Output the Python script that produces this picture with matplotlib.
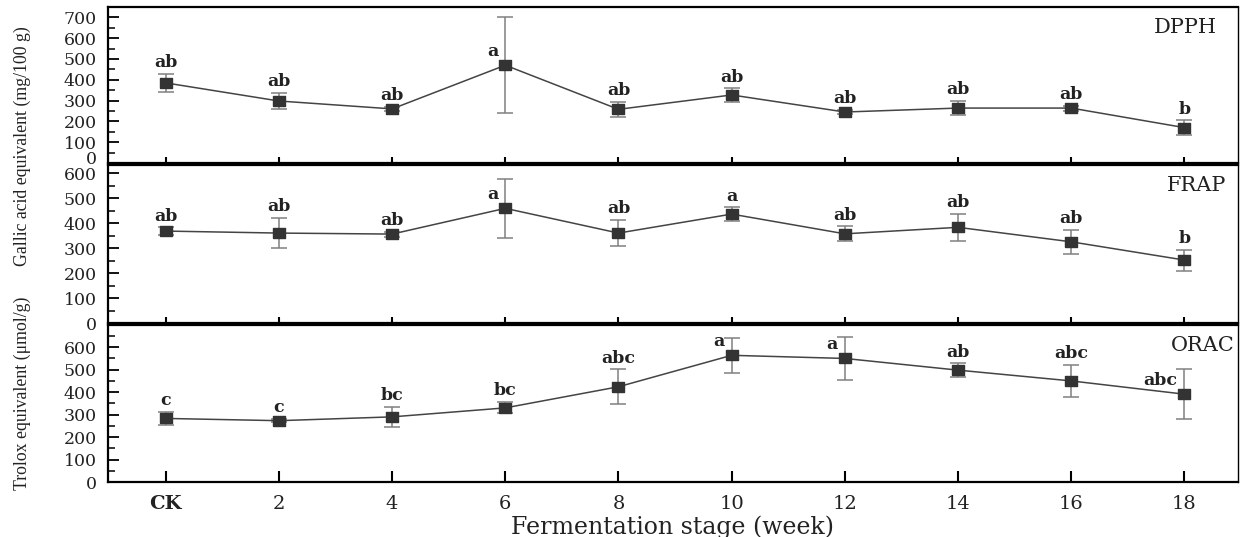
import matplotlib
matplotlib.use("Agg")
import matplotlib.pyplot as plt
import matplotlib.transforms as mtransforms
import numpy as np
from matplotlib.ticker import MultipleLocator

weeks = ["CK", "2", "4", "6", "8", "10", "12", "14", "16", "18"]

dpph = [385, 298, 260, 470, 258, 327, 245, 264, 264, 170]
dpph_sd = [42, 38, 10, 230, 37, 32, 10, 33, 12, 35]
dpph_lett = ["ab", "ab", "ab", "a", "ab", "ab", "ab", "ab", "ab", "b"]

frap = [368, 360, 356, 459, 360, 436, 357, 383, 325, 252]
frap_sd = [15, 60, 10, 118, 53, 27, 30, 55, 48, 42]
frap_lett = ["ab", "ab", "ab", "a", "ab", "a", "ab", "ab", "ab", "b"]

orac = [283, 273, 290, 330, 424, 564, 550, 498, 450, 391]
orac_sd = [30, 8, 45, 25, 77, 79, 97, 30, 73, 111]
orac_lett = ["c", "c", "bc", "bc", "abc", "a", "a", "ab", "abc", "abc"]

serif = ["DejaVu Serif"]
narrow = ["Liberation Serif", "DejaVu Serif"]

fig = plt.figure(figsize=(12.4, 5.37), dpi=100)
ax1 = fig.add_axes([0.0871, 0.6965, 0.911, 0.2905])
ax2 = fig.add_axes([0.0871, 0.3985, 0.911, 0.294])
ax3 = fig.add_axes([0.0871, 0.1024, 0.911, 0.292])

x = np.arange(len(weeks))
# ylim, title, title x (axes fraction), labels drawn left of long bars
panels = [
    (ax1, dpph, dpph_sd, dpph_lett, 750, "DPPH", 0.982, [3]),
    (ax2, frap, frap_sd, frap_lett, 632, "FRAP", 0.990, [3]),
    (ax3, orac, orac_sd, orac_lett, 698, "ORAC", 0.997, [5, 6, 9]),
]

box = [(-1.35, -1), (1.35, -1), (1.35, 1), (-1.35, 1), (-1.35, -1)]

for ax, vals, sd, lett, top, name, tx, left in panels:
    ax.errorbar(x, vals, yerr=sd, fmt="none", ecolor="#808080", elinewidth=1.1,
                capsize=6, capthick=1.1, zorder=2)
    ax.plot(x, vals, color="#444444", lw=1.1, marker=box, ms=9,
            mfc="#333333", mec="#333333", zorder=3)
    for i, (v, s, l) in enumerate(zip(vals, sd, lett)):
        if i in left:
            ax.annotate(l, (x[i], v), xytext=(-5, 4), textcoords="offset points",
                        ha="right", va="bottom", fontsize=12.5, fontweight="bold",
                        family=serif, color="#222222")
        else:
            ax.annotate(l, (x[i], v + s), xytext=(0, 2), textcoords="offset points",
                        ha="center", va="bottom", fontsize=12.5, fontweight="bold",
                        family=serif, color="#222222")
    ax.text(tx, 0.87, name, transform=ax.transAxes, ha="right", va="center",
            fontsize=15, family=serif, color="#222222")
    ax.set_xlim(-0.51, 9.47)
    ax.set_ylim(0, top)
    ax.yaxis.set_major_locator(MultipleLocator(100))
    ax.yaxis.set_minor_locator(MultipleLocator(50))
    ax.set_xticks(x)
    ax.tick_params(axis="y", which="major", direction="in", length=8, width=1.3,
                   labelsize=12.5, pad=8)
    ax.tick_params(axis="y", which="minor", direction="in", length=5, width=1.1)
    ax.tick_params(axis="x", direction="in", length=4, width=1.5)
    for lab in ax.get_yticklabels():
        lab.set_family(serif)
        lab.set_color("#222222")
    for sp in ["left", "bottom", "top"]:
        ax.spines[sp].set_linewidth(1.6)
    ax.spines["right"].set_linewidth(1.0)

ax1.set_xticklabels([])
ax2.set_xticklabels([])
ax3.tick_params(axis="x", length=8, labelsize=14, pad=9)
ax3.set_xticklabels(weeks, family=serif, color="#222222")
ax3.get_xticklabels()[0].set_fontweight("bold")
ax3.set_xlabel("Fermentation stage (week)", fontsize=17, family=serif,
               color="#222222", labelpad=2)

fig.text(0.018, 0.728, "Gallic acid equivalent (mg/100 g)", rotation=90,
         ha="center", va="center", fontsize=12.8, family=narrow, color="#222222")
fig.text(0.018, 0.268, "Trolox equivalent (\u03bcmol/g)", rotation=90,
         ha="center", va="center", fontsize=12.8, family=narrow, color="#222222")

# nudge the top panel's "0" up a few pixels, away from the "600" below it
fig.canvas.draw()
lift = mtransforms.ScaledTranslation(0, 5 / 100, fig.dpi_scale_trans)
for lab in ax1.get_yticklabels():
    if lab.get_text() == "0":
        lab.set_transform(lab.get_transform() + lift)

fig.savefig("out.png", dpi=100)
